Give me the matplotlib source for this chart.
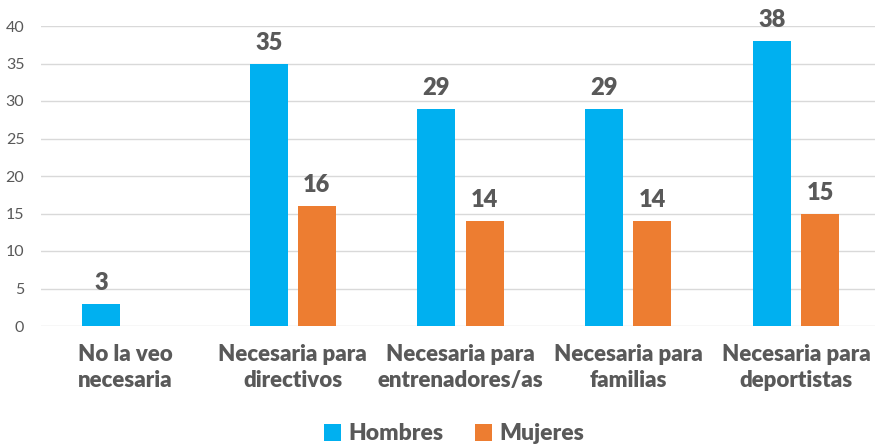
import matplotlib.pyplot as plt
import numpy as np

CATEGORIES = ["No la veo\nnecesaria", "Necesaria para\ndirectivos", "Necesaria para\nentrenadores/as",
              "Necesaria para\nfamilias", "Necesaria para\ndeportistas"]
HOMBRES = [3, 35, 29, 29, 38]
MUJERES = [None, 16, 14, 14, 15]
SERIES = ["Hombres", "Mujeres"]
COLORS = ["#00B0F0", "#ED7D31"]
Y_TICKS = [0, 5, 10, 15, 20, 25, 30, 35, 40]

TEXT_GRAY = "#595959"


def main():
    plt.rcParams['font.family'] = ['Lato', 'DejaVu Sans']
    fig = plt.figure(figsize=(8.75, 4.45), dpi=100)
    W, H = 875, 445
    ax = fig.add_axes([41 / W, 1 - 326 / H, (880 - 41) / W, 300 / H])

    x = np.arange(len(CATEGORIES))
    width = 38 / 167.75
    gap = 10 / 167.75
    offs = [-(width + gap) / 2, (width + gap) / 2]

    for vals, off, color, name in zip([HOMBRES, MUJERES], offs, COLORS, SERIES):
        xs = [xi + off for xi, v in zip(x, vals) if v is not None]
        ys = [v for v in vals if v is not None]
        ax.bar(xs, ys, width=width, color=color, label=name, zorder=3)
        for xi, v in zip(xs, ys):
            ax.annotate(str(v), (xi, v), xytext=(0, 7), textcoords='offset points',
                        ha='center', va='bottom', fontsize=17, fontweight='heavy',
                        color=TEXT_GRAY)

    ax.set_xlim(-0.5, len(CATEGORIES) - 0.5)
    ax.set_ylim(0, 40)
    ax.set_yticks(Y_TICKS)
    ax.set_yticklabels([str(t) for t in Y_TICKS], fontsize=11.5, color=TEXT_GRAY)
    ax.set_xticks(x)
    ax.set_xticklabels(CATEGORIES, fontsize=16, fontweight='heavy', color=TEXT_GRAY,
                       linespacing=1.3)
    ax.tick_params(axis='both', length=0)
    ax.tick_params(axis='x', pad=13)
    ax.tick_params(axis='y', pad=12)
    ax.grid(axis='y', color='#D9D9D9', linewidth=1, zorder=0)
    for s in ax.spines.values():
        s.set_visible(False)

    fig.legend(loc='center', bbox_to_anchor=(454 / W, 1 - 434 / H), ncol=2, frameon=False,
               prop={'size': 16.5, 'weight': 'heavy'}, labelcolor=TEXT_GRAY,
               handlelength=0.75, handleheight=0.75, handletextpad=0.3, columnspacing=1.4)

    fig.savefig("out.png", dpi=100)


if __name__ == "__main__":
    main()
